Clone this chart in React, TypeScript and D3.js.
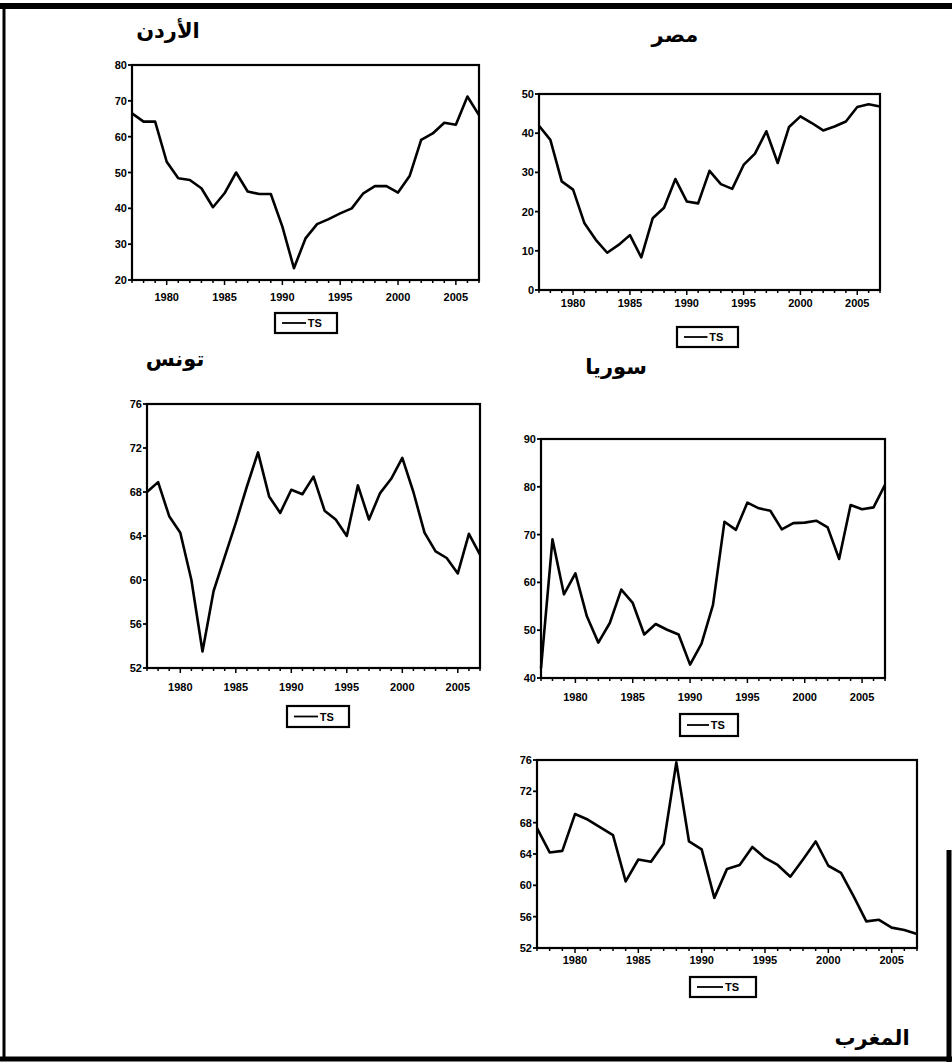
import React from 'react';
import * as d3 from 'd3';

const years = [1977, 1978, 1979, 1980, 1981, 1982, 1983, 1984, 1985, 1986, 1987, 1988, 1989, 1990, 1991, 1992, 1993, 1994, 1995, 1996, 1997, 1998, 1999, 2000, 2001, 2002, 2003, 2004, 2005, 2006, 2007];

const jordanTS = [66.5, 64.2, 64.2, 53, 48.4, 47.9, 45.6, 40.3, 44.2, 50, 44.7, 44, 44, 34.9, 23.3, 31.6, 35.6, 37, 38.6, 40, 44.2, 46.2, 46.2, 44.4, 49, 59.1, 60.9, 63.9, 63.3, 71.2, 66];
const egyptTS = [41.9, 38.3, 27.7, 25.6, 17, 12.8, 9.5, 11.5, 14, 8.3, 18.3, 21, 28.3, 22.6, 22.1, 30.4, 27, 25.8, 31.9, 34.8, 40.5, 32.4, 41.6, 44.3, 42.6, 40.7, 41.7, 43, 46.7, 47.4, 46.8];
const tunisiaTS = [68.0, 68.9, 65.8, 64.3, 60, 53.5, 59, 62.1, 65.2, 68.5, 71.6, 67.6, 66.1, 68.2, 67.8, 69.4, 66.3, 65.5, 64, 68.6, 65.5, 67.9, 69.2, 71.1, 68, 64.3, 62.6, 62, 60.6, 64.2, 62.3];
const syriaTS = [42, 69, 57.5, 61.9, 52.9, 47.4, 51.5, 58.5, 55.7, 49.1, 51.3, 50.1, 49.1, 42.8, 47.2, 55.3, 72.7, 71, 76.7, 75.5, 75, 71.1, 72.4, 72.5, 72.9, 71.5, 64.9, 76.2, 75.3, 75.7, 80.4];
const moroccoTS = [67.3, 64.2, 64.4, 69.1, 68.4, 67.4, 66.4, 60.5, 63.3, 63, 65.3, 75.7, 65.6, 64.6, 58.4, 62.1, 62.6, 64.9, 63.5, 62.6, 61.1, 63.3, 65.6, 62.5, 61.6, 58.6, 55.4, 55.6, 54.6, 54.3, 53.8];

const jordanTicks = [20, 30, 40, 50, 60, 70, 80];
const egyptTicks = [0, 10, 20, 30, 40, 50];
const tunisiaTicks = [52, 56, 60, 64, 68, 72, 76];
const syriaTicks = [40, 50, 60, 70, 80, 90];
const moroccoTicks = [52, 56, 60, 64, 68, 72, 76];
const xTickLabels = [1980, 1985, 1990, 1995, 2000, 2005];
const legendLabel = 'TS';

type Panel = {
  title: string;
  values: number[];
  ticks: number[];
  plot: { x0: number; x1: number; y0: number; y1: number };
  labelY: number;
  titlePos: { x: number; y: number };
  legend: { x: number; y: number; w: number; h: number };
};

const panels: Panel[] = [
  { title: 'الأردن', values: jordanTS, ticks: jordanTicks, plot: { x0: 132, x1: 479, y0: 65, y1: 280 }, labelY: 297, titlePos: { x: 168, y: 38 }, legend: { x: 275, y: 313, w: 62, h: 20 } },
  { title: 'مصر', values: egyptTS, ticks: egyptTicks, plot: { x0: 539, x1: 880, y0: 94, y1: 290 }, labelY: 303, titlePos: { x: 675, y: 42 }, legend: { x: 677, y: 327, w: 61, h: 20 } },
  { title: 'تونس', values: tunisiaTS, ticks: tunisiaTicks, plot: { x0: 147, x1: 480, y0: 404, y1: 668 }, labelY: 687, titlePos: { x: 175, y: 366 }, legend: { x: 287, y: 706, w: 62, h: 21 } },
  { title: 'سوريا', values: syriaTS, ticks: syriaTicks, plot: { x0: 541, x1: 885, y0: 439, y1: 678 }, labelY: 697, titlePos: { x: 616, y: 374 }, legend: { x: 680, y: 714, w: 58, h: 22 } },
  { title: 'المغرب', values: moroccoTS, ticks: moroccoTicks, plot: { x0: 537, x1: 917, y0: 760, y1: 948 }, labelY: 960, titlePos: { x: 872, y: 1045 }, legend: { x: 690, y: 977, w: 66, h: 20 } },
];

const tickFont = '"Liberation Sans", Arial, sans-serif';
const titleFont = '"DejaVu Sans", sans-serif';

function ChartPanel({ p }: { p: Panel }) {
  const x = d3.scaleLinear().domain([years[0], years[years.length - 1]]).range([p.plot.x0, p.plot.x1]);
  const dom = d3.extent(p.ticks) as [number, number];
  const y = d3.scaleLinear().domain(dom).range([p.plot.y1, p.plot.y0]);
  const line = d3.line<number>().x((_, i) => x(years[i])).y((v) => y(v));
  const pts = p.values;
  return (
    <g>
      <text x={p.titlePos.x} y={p.titlePos.y} textAnchor="middle" fontFamily={titleFont} fontWeight="bold" fontSize={21} fill="#000">{p.title}</text>
      <path d={line(pts) || ''} fill="none" stroke="#000" strokeWidth={2.6} strokeLinejoin="round" />
      <rect x={p.plot.x0} y={p.plot.y0} width={p.plot.x1 - p.plot.x0} height={p.plot.y1 - p.plot.y0} fill="none" stroke="#000" strokeWidth={2.2} />
      {p.ticks.map((t) => (
        <g key={'y' + t}>
          <line x1={p.plot.x0 - 4} x2={p.plot.x0} y1={y(t)} y2={y(t)} stroke="#000" strokeWidth={1.8} />
          <text x={p.plot.x0 - 5} y={y(t) + 4} textAnchor="end" fontFamily={tickFont} fontWeight="bold" fontSize={11} fill="#000">{t}</text>
        </g>
      ))}
      {years.map((yr) => (
        <line key={'m' + yr} x1={x(yr)} x2={x(yr)} y1={p.plot.y1} y2={p.plot.y1 + (yr % 5 === 0 ? 5 : 3)} stroke="#000" strokeWidth={1.5} />
      ))}
      {xTickLabels.map((yr) => (
        <text key={'x' + yr} x={x(yr)} y={p.labelY + 4} textAnchor="middle" fontFamily={tickFont} fontWeight="bold" fontSize={11} fill="#000">{yr}</text>
      ))}
      <rect x={p.legend.x} y={p.legend.y} width={p.legend.w} height={p.legend.h} fill="none" stroke="#000" strokeWidth={2.2} />
      <line x1={p.legend.x + 7} x2={p.legend.x + p.legend.w * 0.5} y1={p.legend.y + p.legend.h / 2} y2={p.legend.y + p.legend.h / 2} stroke="#000" strokeWidth={1.8} />
      <text x={p.legend.x + p.legend.w * 0.53} y={p.legend.y + p.legend.h / 2 + 4} fontFamily={tickFont} fontWeight="bold" fontSize={11} fill="#000">{legendLabel}</text>
    </g>
  );
}

export default function App() {
  return (
    <svg width={952} height={1062} style={{ position: 'absolute', left: 0, top: 0, background: '#fff' }}>
      <rect x={0} y={0} width={952} height={1062} fill="#fff" />
      <line x1={0} x2={952} y1={6} y2={6} stroke="#000" strokeWidth={6} />
      <line x1={4} x2={4} y1={3} y2={1060} stroke="#000" strokeWidth={3} />
      <line x1={0} x2={952} y1={1059} y2={1059} stroke="#000" strokeWidth={5} />
      <line x1={949} x2={949} y1={850} y2={1062} stroke="#000" strokeWidth={5} />
      {panels.map((p) => (
        <ChartPanel key={p.title} p={p} />
      ))}
    </svg>
  );
}
